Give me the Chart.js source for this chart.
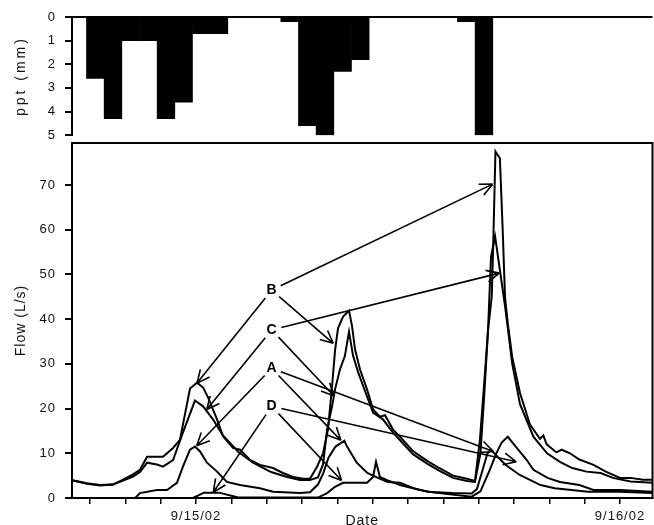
<!DOCTYPE html>
<html>
<head>
<meta charset="utf-8"/>
<title>ppt and flow</title>
<script src="https://cdn.jsdelivr.net/npm/chart.js@4.4.1/dist/chart.umd.min.js"></script>
<style>
  html, body { margin: 0; padding: 0; background: #fff; overflow: hidden; }
  #wrap { position: relative; width: 654px; height: 525px; overflow: hidden; }
  canvas { position: absolute; left: 0; top: 0; }
</style>
</head>
<body>
<div id="wrap">
  <canvas id="flow" width="654" height="535"></canvas>
  <canvas id="rain" width="654" height="150"></canvas>
</div>
<script>
// hours since 9/15/02 00:00
const hourMin = -7.02;
const hourMax = 25.84;
const tickHours = [-6, -4, -2, 0, 2, 4, 6, 8, 10, 12, 14, 16, 18, 20, 22, 24];
const dateLabels = { 0: '9/15/02', 24: '9/16/02' };

// precipitation, hourly bars (centre of the hour)
const rainHours = [-5.7, -4.7, -3.7, -2.7, -1.7, -0.7, 0.3, 1.3, 5.3, 6.3, 7.3, 8.3, 9.3, 15.3, 16.3];
const rainDepth = [2.6, 4.3, 1.0, 1.0, 4.3, 3.6, 0.7, 0.7, 0.2, 4.6, 5.0, 2.3, 1.8, 0.2, 5.0];
const rainTicks = [0, 1, 2, 3, 4, 5];

// flow series
const bHours = [-7.02,-6.17,-5.43,-4.70,-4.13,-3.57,-3.17,-2.77,-1.87,-1.30,-0.91,-0.34,0.06,0.40,0.68,1.19,1.53,2.09,2.49,3.06,3.62,4.36,4.92,5.49,6.06,6.45,6.85,7.19,7.47,7.70,7.87,8.04,8.32,8.66,8.83,9.00,9.28,9.68,10.02,10.41,10.70,11.15,11.55,12.28,13.08,13.81,14.55,15.34,15.79,16.07,16.30,16.53,16.74,16.83,16.95,17.20,17.36,17.49,17.65,17.90,18.34,18.90,19.47,19.66,19.85,20.40,20.70,21.17,21.70,22.50,23.20,24.00,24.60,25.30,25.84];
const bFlow  = [4.0,3.3,2.9,3.0,4.1,5.3,6.3,9.2,9.2,11.2,13.0,24.5,25.8,24.7,22.5,17.6,13.8,11.2,10.8,8.5,7.4,6.7,5.6,4.7,4.3,4.3,7.0,10.0,15.3,25.0,33.0,38.0,40.5,41.9,38.5,33.3,28.8,24.3,19.8,18.2,18.5,15.3,13.7,10.5,8.3,6.6,5.0,4.3,3.8,13.0,25.0,37.5,45.0,57.7,77.5,76.0,60.0,45.0,39.0,31.5,23.5,16.5,13.2,14.0,12.0,10.2,10.8,10.0,8.6,7.4,5.9,4.5,4.5,4.1,4.1];

const cHours = [-7.02,-6.17,-5.43,-4.70,-4.13,-3.57,-3.17,-2.77,-2.21,-1.87,-1.30,-0.80,-0.06,0.40,0.96,1.50,2.40,3.23,4.25,5.15,5.89,6.45,6.90,7.19,7.42,7.70,7.87,8.15,8.43,8.66,8.89,9.17,9.68,10.02,10.58,11.15,11.72,12.28,13.08,13.81,14.55,15.34,15.79,16.10,16.30,16.53,16.70,16.93,17.20,17.49,17.65,17.90,18.34,19.10,19.87,20.60,21.30,22.10,22.90,23.60,24.60,25.84];
const cFlow  = [4.0,3.2,2.8,3.0,3.9,4.8,5.8,7.9,7.5,7.0,8.5,14.0,21.8,20.5,17.6,14.1,10.3,7.9,5.8,4.7,4.0,4.0,4.6,7.5,15.3,20.5,24.3,28.8,31.8,37.2,31.8,28.2,22.7,19.1,17.6,14.6,12.2,9.8,7.7,6.0,4.5,3.8,3.6,10.0,22.0,37.5,54.0,58.5,51.0,43.0,38.0,30.0,21.0,13.7,10.0,8.1,6.7,5.9,5.6,4.5,3.7,3.4];

const aHours = [-7.02,-3.45,-3.17,-2.21,-1.64,-1.08,-0.74,-0.34,-0.06,0.23,0.62,1.19,1.75,2.49,3.62,4.36,5.89,6.45,6.90,7.20,7.50,7.90,8.40,8.55,9.10,9.70,10.30,10.85,11.55,12.30,13.10,14.50,15.60,15.90,16.20,16.50,16.70,17.00,17.50,18.30,19.50,20.30,22.20,24.00,25.84];
const aFlow  = [0,0,1.1,1.8,1.8,3.4,7.0,10.8,11.5,10.4,7.9,5.9,3.6,2.9,2.2,1.4,1.1,1.3,3.0,5.5,9.0,11.5,12.8,11.5,7.9,5.6,4.5,3.6,3.4,2.2,1.4,1.1,1.0,2.0,6.0,10.0,10.8,9.5,7.5,5.2,2.9,2.2,1.4,1.4,1.1];

const dHours = [-7.02,-0.17,0.45,1.30,2.40,6.90,7.42,7.87,8.32,9.68,10.02,10.19,10.41,10.81,11.55,12.68,13.50,15.60,16.10,16.60,17.00,17.30,17.65,18.10,18.70,19.10,19.90,20.60,21.70,22.50,24.00,25.84];
const dFlow  = [0,0,1.2,1.2,0.1,0.1,1.1,2.5,3.4,3.4,4.7,8.1,4.7,4.0,2.9,1.8,1.2,0.3,1.5,6.0,10.0,12.4,13.7,11.5,8.6,6.3,4.5,3.6,2.9,1.8,1.8,1.4];

const flowTicks = [0, 10, 20, 30, 40, 50, 60, 70];

// labels with arrows (data units)
const tagNames = ['B', 'C', 'A', 'D'];
const tagHours = [4.28, 4.28, 4.28, 4.28];
const tagFlows = [46.5, 37.6, 29.0, 20.5];
const tipHours = [[0.06, 7.77, 16.79], [0.61, 7.81, 17.17], [0.04, 8.20, 16.83], [0.98, 8.24, 18.13]];
const tipFlows = [[25.7, 34.6, 70.2], [19.8, 22.8, 50.3], [11.7, 12.9, 10.4], [1.3, 3.9, 8.1]];

Chart.defaults.font.family = '"Liberation Sans", Arial, sans-serif';
Chart.defaults.color = '#111';

function pts(xs, ys) {
  return xs.map((x, i) => ({ x: x, y: ys[i] }));
}
function setTicks(list) {
  return function (scale) { scale.ticks = list.map(v => ({ value: v })); };
}
function spacing(px) {
  return { id: 'spacing', beforeDraw(chart) { chart.ctx.letterSpacing = px; } };
}

// top panel: rainfall hanging from the top
const topLine = {
  id: 'topLine',
  afterDraw(chart) {
    const a = chart.chartArea, ctx = chart.ctx;
    ctx.save();
    ctx.strokeStyle = '#000';
    ctx.lineWidth = 2;
    ctx.beginPath();
    ctx.moveTo(a.left - 1, a.top);
    ctx.lineTo(a.right, a.top);
    ctx.stroke();
    ctx.restore();
  }
};

new Chart(document.getElementById('rain'), {
  type: 'bar',
  data: {
    datasets: [{
      data: pts(rainHours, rainDepth),
      backgroundColor: '#000',
      borderWidth: 0,
      barPercentage: 1,
      categoryPercentage: 1
    }]
  },
  options: {
    responsive: false,
    animation: false,
    layout: { padding: { top: 17, bottom: 13, left: 0, right: 1.5 } },
    plugins: { legend: { display: false }, tooltip: { enabled: false } },
    scales: {
      x: {
        type: 'linear', display: false, offset: false,
        min: hourMin, max: hourMax,
        afterBuildTicks: setTicks(tickHours)
      },
      y: {
        reverse: true, min: 0, max: 5,
        afterBuildTicks: setTicks(rainTicks),
        afterFit(s) { s.width = 72; },
        grid: { drawOnChartArea: false, tickLength: 7, color: '#000', lineWidth: 2 },
        border: { color: '#000', width: 2 },
        ticks: { padding: 7, font: { size: 13 } },
        title: { display: true, text: 'ppt (mm)', font: { size: 14 }, padding: { top: 13, bottom: 0 } }
      }
    }
  },
  plugins: [spacing('3px'), topLine]
});

// bottom panel: flow
const frame = {
  id: 'frame',
  afterDraw(chart) {
    const a = chart.chartArea, ctx = chart.ctx;
    ctx.save();
    ctx.strokeStyle = '#000';
    ctx.lineWidth = 2;
    ctx.strokeRect(a.left, a.top, a.right - a.left, a.bottom - a.top);
    ctx.restore();
  }
};

const arrows = {
  id: 'arrows',
  afterDatasetsDraw(chart) {
    const ctx = chart.ctx, xs = chart.scales.x, ys = chart.scales.y;
    ctx.save();
    ctx.letterSpacing = '0px';
    ctx.strokeStyle = '#000';
    ctx.fillStyle = '#000';
    ctx.lineWidth = 1.6;
    ctx.font = 'bold 14px "Liberation Sans", Arial, sans-serif';
    ctx.textAlign = 'center';
    ctx.textBaseline = 'middle';
    tagNames.forEach((name, i) => {
      const lx = xs.getPixelForValue(tagHours[i]);
      const ly = ys.getPixelForValue(tagFlows[i]);
      ctx.fillText(name, lx, ly);
      tipHours[i].forEach((h, j) => {
        const tx = xs.getPixelForValue(h);
        const ty = ys.getPixelForValue(tipFlows[i][j]);
        const dx = tx - lx, dy = ty - ly;
        const len = Math.hypot(dx, dy);
        const ux = dx / len, uy = dy / len;
        const sx = lx + ux * 10, sy = ly + uy * 10;
        ctx.beginPath();
        ctx.moveTo(sx, sy);
        ctx.lineTo(tx, ty);
        const back = Math.atan2(-uy, -ux);
        [0.44, -0.44].forEach(d => {
          ctx.moveTo(tx, ty);
          ctx.lineTo(tx + 14 * Math.cos(back + d), ty + 14 * Math.sin(back + d));
        });
        ctx.stroke();
      });
    });
    ctx.restore();
  }
};

function line(xs, ys) {
  return {
    data: pts(xs, ys),
    borderColor: '#000',
    borderWidth: 2,
    pointRadius: 0,
    tension: 0,
    fill: false
  };
}

new Chart(document.getElementById('flow'), {
  type: 'line',
  data: {
    datasets: [line(bHours, bFlow), line(cHours, cFlow), line(aHours, aFlow), line(dHours, dFlow)]
  },
  options: {
    responsive: false,
    animation: false,
    layout: { padding: { top: 143, bottom: 0, left: 0, right: 1.5 } },
    plugins: { legend: { display: false }, tooltip: { enabled: false } },
    scales: {
      x: {
        type: 'linear', min: hourMin, max: hourMax, offset: false,
        afterBuildTicks: setTicks(tickHours),
        afterFit(s) { s.height = 37; },
        grid: { drawOnChartArea: false, tickLength: 6, color: '#000', lineWidth: 1.5 },
        border: { color: '#000', width: 2 },
        ticks: {
          padding: 5, maxRotation: 0, autoSkip: false, font: { size: 13 },
          callback: v => dateLabels[v] || ''
        },
        title: { display: true, text: 'Date', font: { size: 14 }, padding: { top: 0, bottom: 5 } }
      },
      y: {
        min: 0, max: 79.4,
        afterBuildTicks: setTicks(flowTicks),
        afterFit(s) { s.width = 72; },
        grid: { drawOnChartArea: false, tickLength: 7, color: '#000', lineWidth: 2 },
        border: { color: '#000', width: 2 },
        ticks: { padding: 9, font: { size: 13 } },
        title: { display: true, text: 'Flow (L/s)', font: { size: 14 }, padding: { top: 13, bottom: 0 } }
      }
    }
  },
  plugins: [spacing('1px'), arrows, frame]
});
</script>
</body>
</html>
